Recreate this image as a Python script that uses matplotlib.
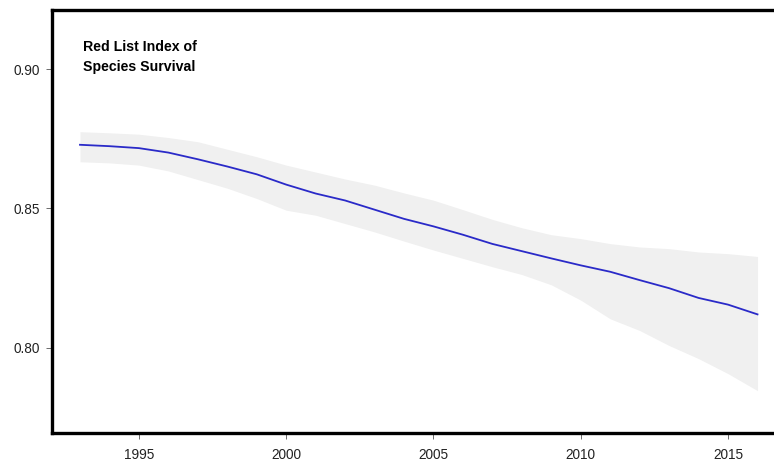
import matplotlib
matplotlib.use("Agg")
import matplotlib.pyplot as plt

plt.rcParams["font.family"] = ["Liberation Sans", "DejaVu Sans"]

# Red List Index of species survival, with confidence band
years = list(range(1993, 2017))
rli = [0.8728, 0.8723, 0.8716, 0.8700, 0.8676, 0.8650, 0.8622, 0.8585,
       0.8553, 0.8528, 0.8495, 0.8462, 0.8435, 0.8405, 0.8372, 0.8346,
       0.8320, 0.8295, 0.8272, 0.8242, 0.8213, 0.8178, 0.8154, 0.8119]
upper = [0.8775, 0.8771, 0.8766, 0.8754, 0.8739, 0.8712, 0.8685, 0.8655,
         0.8630, 0.8605, 0.8583, 0.8555, 0.8529, 0.8495, 0.8460, 0.8430,
         0.8405, 0.8391, 0.8373, 0.8361, 0.8355, 0.8343, 0.8337, 0.8327]
lower = [0.8667, 0.8663, 0.8655, 0.8634, 0.8603, 0.8572, 0.8535, 0.8493,
         0.8475, 0.8445, 0.8415, 0.8382, 0.8350, 0.8320, 0.8290, 0.8262,
         0.8225, 0.8170, 0.8103, 0.8061, 0.8007, 0.7960, 0.7906, 0.7845]

xticks = [1995, 2000, 2005, 2010, 2015]
yticks = [0.80, 0.85, 0.90]

fig = plt.figure(figsize=(7.74, 4.62), dpi=100)
ax = fig.add_axes([52 / 774, 29 / 462, 722 / 774, 423 / 462])

ax.fill_between(years, lower, upper, color="#f0f0f0", linewidth=0)
ax.plot(years, rli, color="#2a2ac8", linewidth=1.3)

ax.set_xlim(1992.05, 2016.56)
ax.set_ylim(0.7693, 0.9212)
ax.set_xticks(xticks)
ax.set_yticks(yticks)
ax.set_yticklabels(["%.2f" % v for v in yticks])

for side in ["left", "bottom", "top"]:
    ax.spines[side].set_linewidth(2.4)
    ax.spines[side].set_color("black")
ax.spines["right"].set_visible(False)

ax.tick_params(direction="out", length=4, width=0.6, color="#555555",
               labelsize=9.8, labelcolor="#222222", pad=5)
ax.tick_params(axis="x", pad=7)

ax.text(0.043, 0.93, "Red List Index of\nSpecies Survival", transform=ax.transAxes,
        fontsize=10.2, fontweight="bold", va="top", ha="left", linespacing=1.55)

fig.savefig("out.png", dpi=100)
